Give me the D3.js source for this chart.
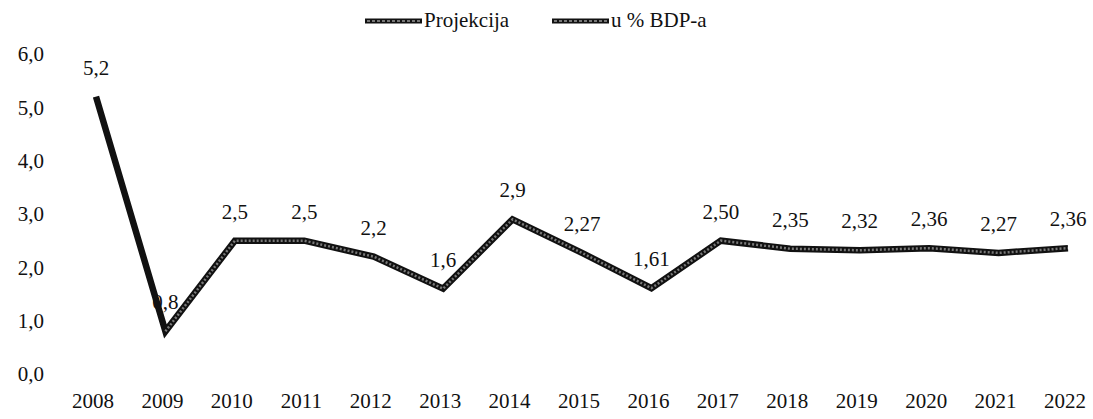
<!DOCTYPE html>
<html>
<head>
<meta charset="utf-8">
<script src="https://cdn.jsdelivr.net/npm/d3@7"></script>
<style>
  body { margin: 0; background: #fff; }
  svg { display: block; font-family: "Liberation Serif", "DejaVu Serif", "Times New Roman", serif; }
</style>
</head>
<body>
<svg id="chart" width="1093" height="419"></svg>
<script>
const years = ["2008", "2009", "2010", "2011", "2012", "2013", "2014", "2015",
    "2016", "2017", "2018", "2019", "2020", "2021", "2022"];
const values = [5.2, 0.8, 2.5, 2.5, 2.2, 1.6, 2.9, 2.27, 1.61, 2.50, 2.35, 2.32, 2.36, 2.27, 2.36];
const valueLabels = ["5,2", "0,8", "2,5", "2,5", "2,2", "1,6", "2,9", "2,27", "1,61",
    "2,50", "2,35", "2,32", "2,36", "2,27", "2,36"];
const yTicks = [0, 1, 2, 3, 4, 5, 6];
const legendItems = ["Projekcija", "u % BDP-a"];

const svg = d3.select("#chart");

const x = d3.scalePoint()
    .domain(years)
    .range([96, 1068]);

const y = d3.scaleLinear()
    .domain([0, 6])
    .range([374, 54]);

const data = years.map((yr, i) => ({ year: yr, value: values[i], label: valueLabels[i] }));

// y axis labels (no axis line, no gridlines)
svg.append("g")
    .selectAll("text")
    .data(yTicks)
    .join("text")
    .attr("x", 44)
    .attr("y", d => y(d))
    .attr("dy", "0.35em")
    .attr("text-anchor", "end")
    .style("font-size", "21px")
    .style("fill", "#111")
    .text(d => d.toFixed(1).replace(".", ","));

// x axis labels
svg.append("g")
    .selectAll("text")
    .data(years)
    .join("text")
    .attr("x", d => x(d) - 3)
    .attr("y", 408)
    .attr("text-anchor", "middle")
    .style("font-size", "21px")
    .style("fill", "#111")
    .text(d => d);

const line = d3.line()
    .x(d => x(d.year))
    .y(d => y(d.value));

svg.append("path")
    .datum(data)
    .attr("d", line)
    .attr("fill", "none")
    .attr("stroke", "#111")
    .attr("stroke-width", 6.5)
    .attr("stroke-linejoin", "miter");

// grey speckled inside of the projection part
svg.append("path")
    .datum(data.slice(1))
    .attr("d", line)
    .attr("fill", "none")
    .attr("stroke", "#7a7a7a")
    .attr("stroke-width", 2.5)
    .attr("stroke-dasharray", "2 2");

// value labels
svg.append("g")
    .selectAll("text")
    .data(data)
    .join("text")
    .attr("x", d => x(d.year))
    .attr("y", d => y(d.value) - 22)
    .attr("text-anchor", "middle")
    .style("font-size", "21px")
    .style("fill", "#111")
    .text(d => d.label);

// legend
const legend = svg.append("g");
const legendX = [365, 552];
legendItems.forEach((name, i) => {
    const g = legend.append("g").attr("transform", `translate(${legendX[i]}, 21)`);
    g.append("line")
        .attr("x1", 0).attr("x2", 57)
        .attr("stroke", "#111").attr("stroke-width", 5);
    g.append("line")
        .attr("x1", 2).attr("x2", 55)
        .attr("stroke", "#999").attr("stroke-width", 1.5)
        .attr("stroke-dasharray", "3 2");
    g.append("text")
        .attr("x", 59)
        .attr("y", 6)
        .style("font-size", "21px")
        .style("fill", "#111")
        .text(name);
});
</script>
</body>
</html>
